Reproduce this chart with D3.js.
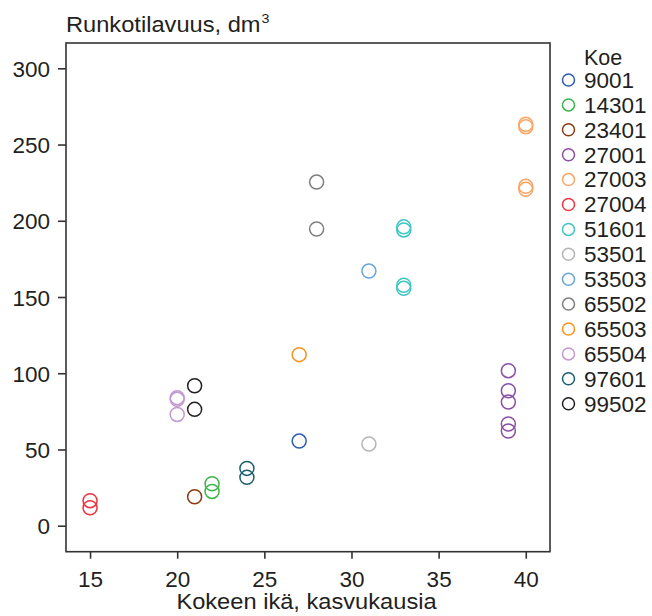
<!DOCTYPE html>
<html><head><meta charset="utf-8">
<script src="https://cdn.jsdelivr.net/npm/d3@7"></script>
<style>body{margin:0;background:#fff}svg{font-family:"Liberation Sans",Arial,sans-serif}</style>
</head><body><svg id="c" width="652" height="616"></svg>
<script>
const experiments = ["9001","14301","23401","27001","27003","27004","51601","53501","53503","65502","65503","65504","97601","99502"];
const colors = ["#2f5db4","#3cb54a","#8b3a0f","#8c4fa6","#f9a566","#ee3440","#3fc4c4","#b5b5b5","#6aa6da","#7f7f7f","#f7941d","#c29ad1","#1b5e70","#231f20"];
const ages = [27,22,21,39,40,15,33,31,31,28,27,20,24,21];
const volumes = [
  [55.5],
  [27.5,22.5],
  [19],
  [101.7,88.5,81.1,66.7,62.1],
  [263.3,261.7,222.6,220.6],
  [16.4,11.8],
  [196,194,157.7,155.7],
  [53.6],
  [167],
  [225.4,194.6],
  [112.2],
  [84,82.9,73],
  [37.6,31.7],
  [91.8,76.3]
];
const xTicks = [15,20,25,30,35,40];
const yTicks = [0,50,100,150,200,250,300];

const svg = d3.select("#c");
const L=66,R=550,T=43,B=551.7;
const x = d3.scaleLinear().domain([13.62,41.39]).range([L,R]);
const y = d3.scaleLinear().domain([-17.05,316.6]).range([B,T]);
const col = d3.scaleOrdinal().domain(experiments).range(colors);

const pts=[];
experiments.forEach((e,i)=>volumes[i].forEach(v=>pts.push({e,x:ages[i],y:v})));

svg.append("rect").attr("x",L).attr("y",T).attr("width",R-L).attr("height",B-T)
  .attr("fill","none").attr("stroke","#333").attr("stroke-width",1.6);

const xa = svg.append("g").attr("transform",`translate(0,${B})`)
  .call(d3.axisBottom(x).tickValues(xTicks).tickSize(7).tickPadding(12));
const ya = svg.append("g").attr("transform",`translate(${L},0)`)
  .call(d3.axisLeft(y).tickValues(yTicks).tickSize(8).tickPadding(8));
[xa,ya].forEach(a=>{
  a.select(".domain").remove();
  a.selectAll("line").attr("stroke","#333").attr("stroke-width",1.6);
  a.selectAll("text").attr("font-size",22.5).attr("fill","#231f20").attr("font-family","Liberation Sans, Arial, sans-serif");
});
ya.selectAll("text").attr("dy","0.36em");

svg.append("g").selectAll("circle").data(pts).join("circle")
  .attr("cx",d=>x(d.x)).attr("cy",d=>y(d.y)).attr("r",7)
  .attr("fill","none").attr("stroke",d=>col(d.e)).attr("stroke-width",1.5);

const ttl = svg.append("text").attr("transform","translate(66,31.5) scale(1.1,1)")
  .attr("font-size",21.5).attr("fill","#231f20");
ttl.append("tspan").text("Runkotilavuus, dm");
ttl.append("tspan").attr("font-size",13).attr("dx",1).attr("dy",-9).text("3");
svg.append("text").attr("transform","translate(306.5,608.5) scale(1.1,1)")
  .attr("text-anchor","middle").attr("font-size",21.5).attr("fill","#231f20")
  .text("Kokeen ikä, kasvukausia");

const lg = svg.append("g");
lg.append("text").attr("x",584).attr("y",65).attr("font-size",21.5).attr("fill","#231f20").text("Koe");
const it = lg.selectAll("g").data(experiments).join("g")
  .attr("transform",(d,i)=>`translate(0,${80+i*24.9})`);
it.append("circle").attr("cx",568.5).attr("cy",0).attr("r",6).attr("fill","none")
  .attr("stroke",d=>col(d)).attr("stroke-width",1.5);
it.append("text").attr("x",584).attr("y",7.8).attr("font-size",22.5).attr("fill","#231f20").text(d=>d);
</script></body></html>
